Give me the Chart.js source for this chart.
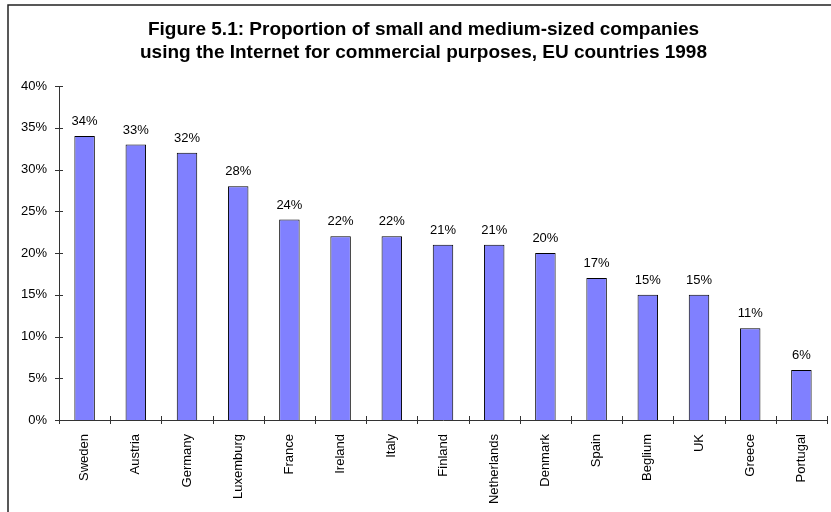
<!DOCTYPE html>
<html>
<head>
<meta charset="utf-8">
<title>Figure 5.1</title>
<script src="https://cdn.jsdelivr.net/npm/chart.js@4/dist/chart.umd.min.js"></script>
<style>
    body { margin: 0; background: #fff; }
    #wrap { width: 831px; height: 512px; }
</style>
</head>
<body>
<div id="wrap"><canvas id="chart" width="831" height="512"></canvas></div>
<script>
// Data
const countries = ['Sweden', 'Austria', 'Germany', 'Luxemburg', 'France', 'Ireland', 'Italy',
    'Finland', 'Netherlands', 'Denmark', 'Spain', 'Beglium', 'UK', 'Greece', 'Portugal'];
const shares = [34, 33, 32, 28, 24, 22, 22, 21, 21, 20, 17, 15, 15, 11, 6];
const yTicks = [0, 5, 10, 15, 20, 25, 30, 35, 40];

const titleLines = [
    'Figure 5.1: Proportion of small and medium-sized companies',
    'using the Internet for commercial purposes, EU countries 1998'
];

const FONT = 'Arial, "Liberation Sans", sans-serif';
const AXIS_COLOR = '#333';

// partial frame left over from the spreadsheet chart area
const framePlugin = {
    id: 'frame',
    beforeDraw(chart) {
        const ctx = chart.ctx;
        ctx.save();
        ctx.strokeStyle = '#222';
        ctx.lineWidth = 1.5;
        ctx.beginPath();
        ctx.moveTo(8, chart.height);
        ctx.lineTo(8, 5);
        ctx.lineTo(chart.width, 5);
        ctx.stroke();
        ctx.restore();
    }
};

// tick marks that cross the axis lines
const crossTicks = {
    id: 'crossTicks',
    afterDraw(chart) {
        const ctx = chart.ctx;
        const x = chart.scales.x;
        const y = chart.scales.y;
        ctx.save();
        ctx.strokeStyle = AXIS_COLOR;
        ctx.lineWidth = 1;
        ctx.beginPath();
        y.ticks.forEach((t, i) => {
            const py = Math.round(y.getPixelForTick(i)) + 0.5;
            ctx.moveTo(x.left - 4, py);
            ctx.lineTo(x.left + 4, py);
        });
        const step = (x.right - x.left) / countries.length;
        for (let i = 0; i <= countries.length; i++) {
            const px = Math.round(x.left + i * step) + 0.5;
            ctx.moveTo(px, y.bottom - 4);
            ctx.lineTo(px, y.bottom + 4);
        }
        ctx.stroke();
        ctx.restore();
    }
};

// value labels above bars
const valueLabels = {
    id: 'valueLabels',
    afterDatasetsDraw(chart) {
        const ctx = chart.ctx;
        const meta = chart.getDatasetMeta(0);
        ctx.save();
        ctx.font = '13px ' + FONT;
        ctx.fillStyle = '#000';
        ctx.textAlign = 'center';
        ctx.textBaseline = 'bottom';
        meta.data.forEach((bar, i) => {
            ctx.fillText(shares[i] + '%', bar.x, bar.y - 8);
        });
        ctx.restore();
    }
};

new Chart(document.getElementById('chart'), {
    type: 'bar',
    data: {
        labels: countries,
        datasets: [{
            data: shares,
            backgroundColor: '#8080FF',
            borderColor: '#000',
            borderWidth: 1,
            categoryPercentage: 1,
            barPercentage: 0.4
        }]
    },
    options: {
        responsive: false,
        animation: false,
        layout: { padding: { left: 20, right: 4, top: 0, bottom: 0 } },
        plugins: {
            legend: { display: false },
            tooltip: { enabled: false },
            title: {
                display: true,
                text: titleLines,
                color: '#000',
                font: { family: FONT, size: 19, weight: 'bold', lineHeight: 1.2 },
                padding: { top: 18.6, bottom: 21.8 }
            }
        },
        scales: {
            x: {
                grid: { display: false },
                border: { color: AXIS_COLOR },
                ticks: {
                    color: '#000',
                    font: { family: FONT, size: 13 },
                    maxRotation: 90,
                    minRotation: 90,
                    padding: 6
                },
                afterFit(s) { s.height = 92; }
            },
            y: {
                min: 0,
                max: 40,
                grid: { display: false },
                border: { color: AXIS_COLOR },
                afterBuildTicks(s) { s.ticks = yTicks.map(v => ({ value: v })); },
                ticks: {
                    color: '#000',
                    font: { family: FONT, size: 13 },
                    padding: 4,
                    callback: v => v + '%'
                },
                afterFit(s) { s.width = 39; }
            }
        }
    },
    plugins: [framePlugin, crossTicks, valueLabels]
});
</script>
</body>
</html>
